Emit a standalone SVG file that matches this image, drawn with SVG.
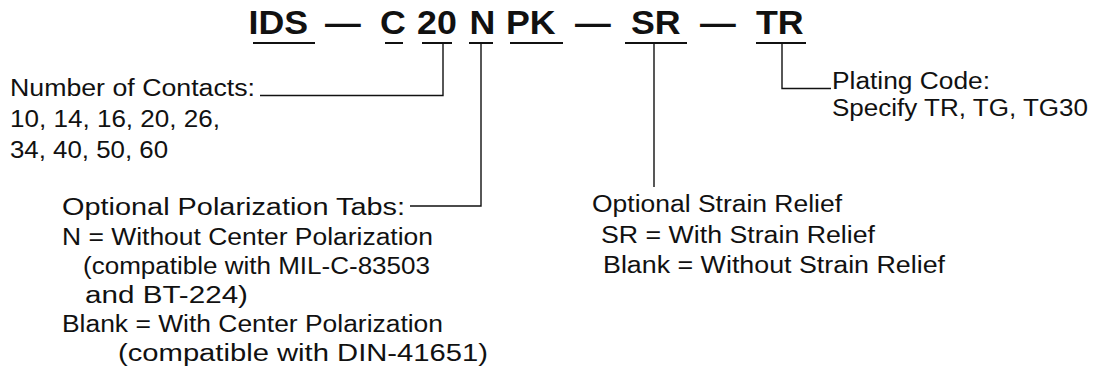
<svg xmlns="http://www.w3.org/2000/svg" width="1102" height="382" viewBox="0 0 1102 382">
<style>
text{font-family:"Liberation Sans",Arial,Helvetica,sans-serif;fill:#111}
.b{font-size:23.5px}
.h{font-size:32.5px;font-weight:bold}
.ul{stroke:#111;stroke-width:2;fill:none}
.ln{stroke:#111;stroke-width:1.4;fill:none}
</style>
<rect width="1102" height="382" fill="#fff"/>
<g id="code">
<text class="h" transform="translate(248.5,33.5) scale(1.1,1)">IDS</text>
<text class="h" transform="translate(325,33.5) scale(1.1,1)">—</text>
<text class="h" transform="translate(380,33.5) scale(1.1,1)">C</text>
<text class="h" transform="translate(417,33.5) scale(1.1,1)">20</text>
<text class="h" transform="translate(469.5,33.5) scale(1.1,1)">N</text>
<text class="h" transform="translate(506,33.5) scale(1.1,1)">PK</text>
<text class="h" transform="translate(575,33.5) scale(1.1,1)">—</text>
<text class="h" transform="translate(631,33.5) scale(1.1,1)">SR</text>
<text class="h" transform="translate(700,33.5) scale(1.1,1)">—</text>
<text class="h" transform="translate(756,33.5) scale(1.1,1)">TR</text>
<path class="ul" d="M253,43H315M385,43H403M422,43H452M469,43H493M510,43H563M625,43H687M756,43H806"/>
</g>
<g id="connectors">
<path class="ln" d="M260,95.5H443V44"/>
<path class="ln" d="M410,206H481V44"/>
<path class="ln" d="M654,44V187"/>
<path class="ln" d="M782,44V88.5H831"/>
</g>
<g id="contacts">
<text class="b" x="10" y="96" textLength="245" lengthAdjust="spacingAndGlyphs">Number of Contacts:</text>
<text class="b" x="10" y="127" textLength="210" lengthAdjust="spacingAndGlyphs">10, 14, 16, 20, 26,</text>
<text class="b" x="10" y="158" textLength="158" lengthAdjust="spacingAndGlyphs">34, 40, 50, 60</text>
</g>
<g id="polarization">
<text class="b" x="62" y="215" textLength="343" lengthAdjust="spacingAndGlyphs">Optional Polarization Tabs:</text>
<text class="b" x="62" y="244.5" textLength="371" lengthAdjust="spacingAndGlyphs">N = Without Center Polarization</text>
<text class="b" x="83" y="274" textLength="347" lengthAdjust="spacingAndGlyphs">(compatible with MIL-C-83503</text>
<text class="b" x="85" y="303" textLength="163" lengthAdjust="spacingAndGlyphs">and BT-224)</text>
<text class="b" x="62" y="332" textLength="381" lengthAdjust="spacingAndGlyphs">Blank = With Center Polarization</text>
<text class="b" x="118" y="361" textLength="370" lengthAdjust="spacingAndGlyphs">(compatible with DIN-41651)</text>
</g>
<g id="strain">
<text class="b" x="592" y="212" textLength="250" lengthAdjust="spacingAndGlyphs">Optional Strain Relief</text>
<text class="b" x="601" y="242.5" textLength="274" lengthAdjust="spacingAndGlyphs">SR = With Strain Relief</text>
<text class="b" x="603" y="273" textLength="342" lengthAdjust="spacingAndGlyphs">Blank = Without Strain Relief</text>
</g>
<g id="plating">
<text class="b" x="832" y="88.5" textLength="158" lengthAdjust="spacingAndGlyphs">Plating Code:</text>
<text class="b" x="832" y="115.5" textLength="256" lengthAdjust="spacingAndGlyphs">Specify TR, TG, TG30</text>
</g>
</svg>
